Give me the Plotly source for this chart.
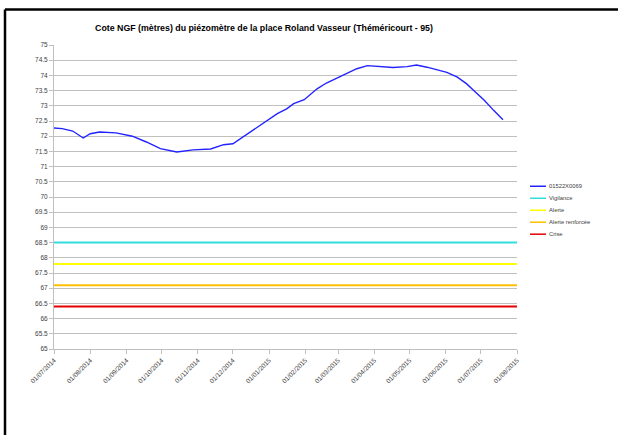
import plotly.graph_objects as go

# ---- data ----
dates = ["2014-07-01", "2014-07-08", "2014-07-17", "2014-07-26", "2014-08-01", "2014-08-09",
         "2014-08-23", "2014-09-06", "2014-09-18", "2014-09-30", "2014-10-14", "2014-10-28",
         "2014-11-12", "2014-11-23", "2014-12-01", "2014-12-16", "2014-12-30", "2015-01-08",
         "2015-01-16", "2015-01-22", "2015-01-31", "2015-02-05", "2015-02-11", "2015-02-19",
         "2015-02-28", "2015-03-08", "2015-03-17", "2015-03-26", "2015-04-03", "2015-04-17",
         "2015-04-29", "2015-05-07", "2015-05-16", "2015-05-27", "2015-06-02", "2015-06-11",
         "2015-06-19", "2015-06-25", "2015-07-04", "2015-07-12", "2015-07-20"]
levels = [72.27, 72.25, 72.17, 71.94, 72.08, 72.14,
          72.11, 72.00, 71.81, 71.59, 71.48, 71.55,
          71.58, 71.72, 71.75, 72.14, 72.50, 72.74,
          72.90, 73.07, 73.20, 73.36, 73.56, 73.75,
          73.92, 74.07, 74.22, 74.32, 74.30, 74.26,
          74.29, 74.34, 74.27, 74.16, 74.10, 73.94,
          73.72, 73.50, 73.18, 72.85, 72.54]

threshold_names = ["Vigilance", "Alerte", "Alerte renforcée", "Crise"]
threshold_values = [68.5, 67.8, 67.1, 66.4]
threshold_colors = ["#33dddd", "#ffff00", "#ffc000", "#e60000"]
x_span = ["2014-07-01", "2015-08-01"]

series_name = "01522X0069"
series_color = "#2323ff"
title_text = "Cote NGF (mètres) du piézomètre de la place Roland Vasseur (Théméricourt - 95)"

# ---- figure ----
fig = go.Figure()
fig.add_trace(go.Scatter(x=dates, y=levels, mode="lines", name=series_name,
                         line=dict(color=series_color, width=1.4)))
for n, v, c in zip(threshold_names, threshold_values, threshold_colors):
    fig.add_trace(go.Scatter(x=x_span, y=[v, v], mode="lines", name=n,
                             line=dict(color=c, width=2)))

L, T, B, R = 54, 44.5, 86, 101
W, H = 618, 435
pw = W - L - R
ph = H - T - B

def px_x(x):
    return (x - L) / pw

def px_y(y):
    return (H - B - y) / ph

fig.update_layout(
    width=W, height=H,
    margin=dict(l=L, r=R, t=T, b=B, pad=0),
    paper_bgcolor="white", plot_bgcolor="white",
    font=dict(family="Liberation Sans, Arial, sans-serif", size=7, color="#404040"),
    title=dict(text="<b>" + title_text + "</b>", x=px_x(264), xref="paper", xanchor="center",
               y=1 - 28 / H, yanchor="middle",
               font=dict(size=8.8, color="#000000")),
    showlegend=False,
    xaxis=dict(type="date", range=x_span, dtick="M1", tick0="2014-07-01",
               tickformat="%d/%m/%Y", tickangle=-45, showgrid=False,
               showline=True, linecolor="#bfbfbf", linewidth=1,
               ticks="outside", ticklen=4, tickcolor="#bfbfbf",
               tickfont=dict(size=6.5, color="#404040"), zeroline=False),
    yaxis=dict(range=[65, 75], dtick=0.5, showgrid=True, gridcolor="#c0c0c0", gridwidth=1,
               showline=True, linecolor="#bfbfbf", linewidth=1,
               ticks="outside", ticklen=4, tickcolor="#bfbfbf",
               tickfont=dict(size=6.5, color="#404040"), zeroline=False),
)

# manual compact legend
leg_names = [series_name] + threshold_names
leg_colors = [series_color] + threshold_colors
for i, (n, c) in enumerate(zip(leg_names, leg_colors)):
    yy = 186 + 12 * i
    fig.add_shape(type="line", xref="paper", yref="paper", x0=px_x(530), x1=px_x(546),
                  y0=px_y(yy), y1=px_y(yy), line=dict(color=c, width=1.5))
    fig.add_annotation(xref="paper", yref="paper", x=px_x(547), y=px_y(yy), text=n,
                       showarrow=False, xanchor="left", yanchor="middle",
                       font=dict(size=5.8, color="#404040"))

# outer frame (black border top & left)
fx = px_x(5)
fy = px_y(9)
fig.add_shape(type="line", xref="paper", yref="paper", x0=fx, x1=fx, y0=-2, y1=fy,
              line=dict(color="black", width=2.5))
fig.add_shape(type="line", xref="paper", yref="paper", x0=fx, x1=2, y0=fy, y1=fy,
              line=dict(color="black", width=2.5))

fig.write_html("out.html", config={"displayModeBar": False},
               post_script="document.body.style.margin='0px';")
